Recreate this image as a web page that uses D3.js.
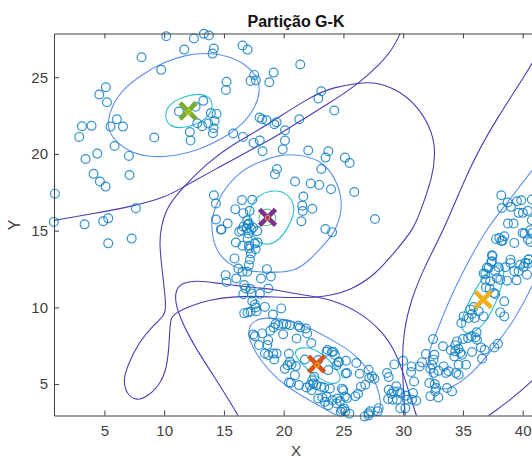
<!DOCTYPE html>
<html>
<head>
<meta charset="utf-8">
<script src="https://d3js.org/d3.v7.min.js"></script>
<style>
html, body { margin: 0; padding: 0; background: #fff; overflow: hidden; }
text { font-family: "Liberation Sans", Arial, sans-serif; }
</style>
</head>
<body>
<script>
var titleText = "Partição G-K";
var xLabel = "X";
var yLabel = "Y";
var xTicks = [5, 10, 15, 20, 25, 30, 35, 40];
var yTicks = [5, 10, 15, 20, 25];

// pontos, por regiao
var ptsGreen = [[10.17,27.67],[13.32,27.83],[13.74,27.72],[12.49,27.52],[11.68,26.8],[14.16,26.87],[14.05,26.54],[16.56,27.07],[16.98,26.8],[8.11,26.3],[9.75,25.48],[17.54,25.15],[17.23,24.76],[17.68,24.8],[18.8,24.67],[19.16,25.3],[15.22,24.7],[15.17,24.17],[5.12,24.35],[4.57,23.87],[5.21,23.37],[13.27,23.46],[11.23,22.76],[12.63,23.07],[13.91,22.67],[14.38,22.61],[14.22,22.15],[14.13,21.67],[14.08,21.35],[13.69,21.98],[13.18,21.8],[12.77,22.0],[12.15,21.43],[12.21,20.87],[9.17,21.07],[6.04,22.26],[5.51,21.78],[6.55,21.78],[3.12,21.8],[3.92,21.83],[2.89,21.11],[5.85,20.52],[4.4,20.02],[3.42,19.67],[7.05,19.87],[4.09,18.7],[4.62,18.2],[5.1,17.87],[7.1,18.63],[0.86,17.41],[7.63,16.46],[0.77,15.57],[3.34,15.41],[4.9,15.61],[5.32,15.8],[5.32,14.17],[7.28,14.48],[15.78,21.33],[16.59,21.11],[17.48,20.72],[17.98,22.37],[18.57,22.2]];
var ptsPurple = [[18.0,20.87],[18.23,20.17],[21.39,25.83],[23.15,24.09],[22.9,23.61],[24.24,22.83],[21.31,22.26],[19.41,22.07],[19.22,21.93],[18.2,22.26],[20.11,21.54],[20.11,20.87],[19.92,20.3],[22.06,20.22],[23.74,20.17],[23.51,19.76],[25.13,19.76],[25.52,19.41],[23.15,19.02],[19.44,19.02],[19.27,18.67],[20.95,18.2],[22.26,18.07],[22.98,17.98],[23.96,17.7],[25.91,17.52],[21.65,17.22],[21.56,16.63],[21.59,16.28],[22.4,16.43],[21.48,15.61],[27.64,15.76],[23.49,15.11],[24.05,14.9],[14.16,17.31],[14.33,16.77],[16.51,16.99],[17.37,17.01],[15.95,16.4],[16.62,16.14],[17.15,16.29],[14.33,15.73],[15.31,15.47],[16.95,15.68],[17.09,15.47],[14.8,15.07],[16.62,15.25],[17.0,15.4],[17.45,15.2],[14.75,15.08],[16.28,14.93],[16.48,15.03],[16.9,15.14],[17.3,15.1],[17.79,14.97],[17.04,14.82],[16.98,14.49],[16.0,14.23],[16.56,14.01],[17.09,14.01],[17.59,14.16],[17.82,14.23],[17.65,13.79],[17.12,13.84],[17.26,13.51],[17.18,13.12],[15.89,13.19],[17.09,12.75],[16.2,12.53],[16.56,12.32],[16.95,12.32],[16.03,11.88],[18.6,12.49],[18.1,11.88],[18.93,12.01],[15.14,12.1],[15.22,11.66],[16.7,11.45],[16.81,11.23],[17.23,11.19],[18.71,11.23],[16.62,10.86],[18.01,10.88],[17.32,10.9],[17.37,10.4],[17.59,10.19],[17.65,9.99],[18.43,10.03],[17.23,9.71],[16.98,9.66],[16.7,9.62],[17.73,9.75],[19.8,9.93],[19.1,9.53]];
var ptsOrange = [[17.45,8.23],[17.59,8.12],[18.2,8.3],[18.88,8.47],[19.32,8.91],[19.55,8.84],[19.96,8.91],[20.24,8.89],[20.52,8.84],[21.22,8.8],[21.36,8.69],[19.16,8.69],[19.96,8.25],[21.86,8.62],[21.97,8.3],[21.08,7.97],[22.31,7.67],[17.93,7.54],[18.71,7.86],[18.63,7.54],[18.43,6.99],[18.71,6.89],[19.13,6.99],[19.41,6.99],[19.21,6.6],[20.44,6.97],[23.59,7.1],[24.15,7.1],[24.29,6.89],[20.52,6.45],[20.66,6.28],[20.33,6.23],[20.1,5.99],[21.02,6.17],[21.78,6.6],[20.94,5.58],[20.44,5.1],[20.61,5.08],[21.28,4.93],[22.56,5.47],[22.39,5.25],[22.89,6.56],[23.73,5.91],[24.62,6.45],[24.43,6.23],[25.18,5.69],[22.47,5.04],[22.2,4.93],[21.92,4.78],[22.34,4.6],[22.75,4.93],[23.12,4.82],[23.4,4.78],[23.87,4.71],[22.89,4.06],[23.23,4.12],[23.45,3.84],[23.73,3.62],[23.59,4.17],[24.07,3.95],[24.48,4.06],[24.71,3.9],[24.43,3.73],[24.79,3.19],[25.07,3.4],[24.99,4.6],[25.12,4.17],[26.08,6.37],[26.36,5.67],[25.3,5.72],[25.22,6.52],[24.57,6.41],[24.04,7.09],[23.68,7.22],[27.11,5.93],[27.17,5.39],[27.59,5.35],[27.39,5.5],[26.83,4.96],[26.47,4.83],[26.22,4.37],[26.0,4.2],[25.3,4.09],[24.88,4.7],[27.95,3.43],[27.87,3.22],[27.25,3.22],[27.11,2.96],[26.78,2.89],[27.1,3.1],[25.5,3.07],[25.16,3.22],[24.88,3.33]];
var ptsMiddle = [[29.26,6.28],[29.99,6.52],[30.71,6.15],[30.66,5.78],[30.91,5.17],[28.65,5.72],[28.79,5.46],[28.79,4.63],[29.43,4.85],[29.2,4.52],[29.54,4.52],[29.01,4.37],[29.76,4.41],[28.74,4.02],[29.12,3.98],[29.48,3.98],[30.24,4.24],[30.82,4.41],[30.32,3.98],[30.74,3.98],[31.1,3.91],[29.76,3.43],[30.18,3.43]];
var ptsYellow = [[31.58,6.41],[31.91,6.96],[31.38,6.15],[32.5,7.93],[32.61,6.91],[32.55,6.59],[32.41,6.26],[32.27,6.0],[32.55,5.72],[32.19,5.07],[32.64,5.0],[32.75,4.74],[32.69,4.52],[32.27,4.2],[32.94,4.13],[33.33,7.46],[33.39,6.15],[33.58,5.72],[32.97,5.87],[33.81,5.83],[34.09,4.52],[33.67,4.74],[34.36,7.52],[34.5,7.78],[33.99,7.2],[34.36,7.13],[34.64,7.3],[34.92,6.91],[34.28,6.8],[34.78,7.02],[35.26,6.26],[34.64,6.26],[34.42,5.72],[34.64,5.61],[35.0,7.93],[35.43,8.0],[35.71,8.11],[36.05,8.04],[36.15,8.37],[36.18,7.89],[35.76,7.09],[36.51,7.39],[36.82,7.24],[36.6,6.65],[37.93,7.63],[37.63,7.39],[34.87,8.98],[35.06,9.41],[35.48,9.3],[35.76,9.57],[35.98,9.3],[35.62,9.85],[36.32,9.74],[36.73,9.41],[35.9,10.02],[37.7,10.87],[38.46,10.39],[38.12,9.67],[38.46,9.41],[37.24,11.22],[37.58,10.93],[36.88,11.8],[36.93,11.3],[37.29,11.7],[37.85,11.91],[38.13,11.8],[38.69,11.74],[39.5,11.76],[36.88,12.17],[37.7,12.35],[37.15,12.57],[37.43,13.0],[37.43,13.39],[37.99,12.61],[38.98,13.11],[38.98,12.89],[38.55,12.61],[39.3,12.35],[39.66,12.35],[40.22,12.89],[40.5,13.11],[40.36,12.13],[39.8,12.78],[37.77,14.46],[38.05,14.52],[38.33,14.35],[38.47,14.63],[39.3,14.2],[40.0,14.85],[40.64,14.26],[40.78,14.85],[38.21,17.31],[38.26,16.48],[38.74,16.83],[39.02,16.55],[39.52,16.92],[39.88,16.98],[39.66,16.16],[40.02,16.16],[40.44,16.29],[40.77,17.03],[38.77,15.46],[39.24,15.46],[40.77,15.68],[40.16,14.81],[40.64,15.03],[40.44,14.42],[38.21,14.33],[37.48,13.35],[37.37,12.96],[40.5,13.14],[40.08,12.64],[40.44,12.85],[37.01,12.6],[36.73,12.21]];
var allPoints = ptsGreen.concat(ptsPurple, ptsOrange, ptsMiddle, ptsYellow);

// centros
var centers = [[12.0,22.8],[18.65,15.86],[22.75,6.3],[36.7,10.5]];
var centerColors = ["#77ac30","#7e2f8e","#d95319","#edb120"];

// contornos externos
var outerA = [[0.8,15.67],[4.06,16.11],[7.41,16.59],[10.2,17.2],[11.6,17.85],[14.38,19.04],[17.17,20.24],[18.85,20.89],[21.26,22.1],[23.77,23.28],[26.28,24.59],[27.95,25.78],[29.07,26.76],[29.76,27.85],[30.2,28.6]];
var outerB = [[16.4,2.6],[16.2,2.96],[14.1,5.6],[12.43,7.57],[11.04,9.74],[10.85,11.04],[11.46,11.6],[12.71,11.75],[14.38,11.59],[16.34,11.37],[18.19,11.26],[19.58,11.11],[20.98,10.87],[23.77,10.61],[26.56,9.63],[28.51,8.22],[29.62,6.7],[30.46,4.52],[31.1,2.96],[31.3,2.5]];
var outerLoop = [[18.19,10.72],[15.98,10.72],[13.75,10.5],[12.1,10.07],[10.98,9.63],[10.5,9.35],[10.45,8.0],[10.26,6.04],[9.57,4.85],[8.45,4.1],[7.75,3.95],[7.0,4.2],[6.55,5.07],[6.83,6.04],[7.89,7.78],[9.29,8.98],[10.1,9.5],[10.15,10.28],[9.84,12.35],[9.6,14.09],[9.7,15.1],[10.2,16.54],[11.6,17.85],[13.55,19.37],[15.78,20.67],[18.19,21.65],[22.37,23.83],[24.32,24.37],[26.28,24.62],[27.39,24.7],[29.34,24.3],[31.3,23.1],[32.5,21.33],[32.7,20.02],[32.45,18.5],[31.58,16.54],[30.9,15.1],[29.34,13.65],[27.67,12.13],[25.72,11.15],[23.49,10.67],[20.98,10.61]];
var outerC = [[41.5,27.0],[40.78,25.78],[37.71,22.2],[35.48,19.04],[33.45,15.1],[31.85,12.78],[30.6,10.39],[30.04,8.43],[29.9,6.48],[30.04,4.3],[30.18,2.96],[30.2,2.5]];
var outerD = [[36.5,2.5],[37.15,2.96],[38.83,3.87],[40.78,5.17],[41.6,5.9]];

// elipses medias
var midGreen = [[5.25,22.09],[5.65,23.2],[6.65,24.3],[8.2,25.2],[9.9,25.97],[11.87,26.47],[13.55,26.6],[15.3,26.42],[16.85,25.85],[17.85,24.95],[18.05,24.15],[17.65,23.02],[16.55,21.9],[14.98,21.03],[13.0,20.27],[11.04,19.88],[9.08,19.77],[7.3,20.05],[6.05,20.72],[5.38,21.43]];
var midPurple = [[21.12,19.98],[23.0,19.65],[24.3,18.55],[24.92,16.98],[24.75,15.89],[24.25,14.9],[23.55,14.22],[22.12,13.03],[20.98,12.38],[19.4,12.27],[17.45,12.3],[15.72,12.6],[14.3,13.6],[13.93,15.17],[14.02,15.95],[14.58,17.25],[16.3,18.9],[18.19,19.55],[19.6,19.93]];
var midOrange = [[16.95,8.55],[17.55,9.2],[18.71,9.36],[20.66,9.14],[22.65,8.49],[24.35,7.72],[25.78,7.08],[27.47,5.65],[28.25,3.87],[27.95,2.9],[26.5,2.2],[24.25,3.0],[22.57,3.76],[20.9,4.52],[19.5,5.28],[18.08,6.5],[17.22,7.65]];
var midYellow = [[43.0,21.0],[40.77,18.94],[39.1,17.2],[36.87,15.03],[35.06,12.42],[33.8,10.4],[32.5,7.8],[32.05,6.9],[32.18,5.83],[32.9,4.42],[34.4,4.88],[36.08,5.88],[38.3,8.13],[39.15,9.0],[40.82,11.28],[42.5,14.5]];

// elipses internas
var innerGreen = [[10.0,22.52],[10.4,23.25],[11.6,23.75],[12.85,23.95],[13.8,23.75],[14.12,23.17],[13.78,22.45],[12.71,21.92],[11.46,21.66],[10.4,21.78]];
var innerPurple = [[17.0,15.5],[17.24,16.72],[18.0,17.4],[19.41,17.7],[20.6,17.28],[21.0,16.33],[20.46,15.3],[19.62,14.33],[18.5,14.0],[17.52,14.42]];
var innerOrange = [[20.85,7.15],[21.5,7.42],[22.65,7.3],[23.8,6.62],[24.67,5.72],[24.82,5.2],[24.15,4.95],[23.12,5.28],[22.0,5.95],[21.14,6.62]];
var innerYellow = [[34.83,8.98],[35.12,9.78],[35.97,11.1],[37.1,12.45],[38.32,13.0],[38.52,12.13],[37.93,10.55],[36.95,9.02],[35.8,8.24],[35.0,8.34]];

// aneis pequenos no centro
var ringPurple = [[17.85,15.7],[18.05,16.25],[18.7,16.5],[19.3,16.15],[19.38,15.55],[18.75,15.3],[18.15,15.35]];
var ringPurpleIn = [[18.42,15.8],[18.6,16.04],[18.85,15.95],[18.82,15.7],[18.55,15.66]];
var ringGreenIn = [[11.8,22.7],[12.0,22.95],[12.25,22.85],[12.2,22.62],[11.95,22.58]];
var ringOrangeIn = [[22.55,6.2],[22.75,6.45],[23.0,6.35],[22.95,6.12],[22.7,6.08]];

var w = 532, h = 458;
var svg = d3.select("body").append("svg").attr("width", w).attr("height", h).style("display", "block");

var x = d3.scaleLinear().domain([0.78, 41.2]).range([54, 537]);
var y = d3.scaleLinear().domain([2.95, 27.85]).range([415.5, 33.5]);

svg.append("clipPath").attr("id", "plotclip").append("rect")
	.attr("x", x.range()[0]).attr("y", y.range()[1])
	.attr("width", x.range()[1] - x.range()[0]).attr("height", y.range()[0] - y.range()[1]);

var openLine = d3.line().x(function(d){ return x(d[0]); }).y(function(d){ return y(d[1]); }).curve(d3.curveBasis);
var closedLine = d3.line().x(function(d){ return x(d[0]); }).y(function(d){ return y(d[1]); }).curve(d3.curveBasisClosed);

var lines = svg.append("g").attr("clip-path", "url(#plotclip)").attr("fill", "none").attr("stroke-width", 1.1);

function drawCurve(data, gen, color){
	lines.append("path").attr("d", gen(data)).attr("stroke", color);
}

var outerColor = "#4a3bb5", midColor = "#5e8ff0", innerColor = "#2cc0cc";
[outerA, outerB, outerC, outerD].forEach(function(c){ drawCurve(c, openLine, outerColor); });
drawCurve(outerLoop, closedLine, outerColor);
[midGreen, midPurple, midOrange, midYellow].forEach(function(c){ drawCurve(c, closedLine, midColor); });
[innerGreen, innerPurple, innerOrange, innerYellow].forEach(function(c){ drawCurve(c, closedLine, innerColor); });
drawCurve(ringPurple, closedLine, "#63c98a");

// pontos
svg.append("g").selectAll("circle").data(allPoints).enter().append("circle")
	.attr("cx", function(d){ return x(d[0]); })
	.attr("cy", function(d){ return y(d[1]); })
	.attr("r", 4.4)
	.attr("fill", "none")
	.attr("stroke", "#0f7fc4")
	.attr("stroke-opacity", 0.85)
	.attr("stroke-width", 1.2);

// centros
var cross = d3.symbol().type(d3.symbolX).size(170);
svg.append("g").selectAll("path").data(centers).enter().append("path")
	.attr("d", cross)
	.attr("transform", function(d){ return "translate(" + x(d[0]) + "," + y(d[1]) + ")"; })
	.attr("fill", "none")
	.attr("stroke", function(d, i){ return centerColors[i]; })
	.attr("stroke-width", 4.6);

var rings = svg.append("g").attr("fill", "none").attr("stroke-width", 1.2);
rings.append("path").attr("d", closedLine(ringPurpleIn)).attr("stroke", "#e89a30");
rings.append("path").attr("d", closedLine(ringGreenIn)).attr("stroke", "#c8d020");
rings.append("path").attr("d", closedLine(ringOrangeIn)).attr("stroke", "#e8b020");

// eixos
function styleAxis(g){
	g.selectAll(".domain").attr("stroke", "#404040").attr("stroke-width", 1);
	g.selectAll(".tick line").attr("stroke", "#404040").attr("stroke-width", 1);
	g.selectAll("text").attr("fill", "#404040").style("font-size", "15px").style("font-family", "Liberation Sans, Arial, sans-serif");
}

svg.append("g").attr("transform", "translate(0," + y.range()[0] + ")")
	.call(d3.axisBottom(x).tickValues(xTicks).tickSizeInner(-5).tickSizeOuter(0).tickPadding(10))
	.call(styleAxis);
svg.append("g").attr("transform", "translate(0," + y.range()[1] + ")")
	.call(d3.axisTop(x).tickValues(xTicks).tickSizeInner(-5).tickSizeOuter(0).tickFormat(""))
	.call(styleAxis);
svg.append("g").attr("transform", "translate(" + x.range()[0] + ",0)")
	.call(d3.axisLeft(y).tickValues(yTicks).tickSizeInner(-5).tickSizeOuter(0).tickPadding(6))
	.call(styleAxis);

svg.append("text").attr("x", 296).attr("y", 27).attr("text-anchor", "middle")
	.attr("font-size", 16).attr("font-weight", "bold").attr("fill", "#111").text(titleText);
svg.append("text").attr("x", 296).attr("y", 456).attr("text-anchor", "middle")
	.attr("font-size", 15).attr("fill", "#404040").text(xLabel);
svg.append("text").attr("transform", "translate(20,225) rotate(-90)").attr("text-anchor", "middle")
	.attr("font-size", 16).attr("fill", "#404040").text(yLabel);
</script>
</body>
</html>
